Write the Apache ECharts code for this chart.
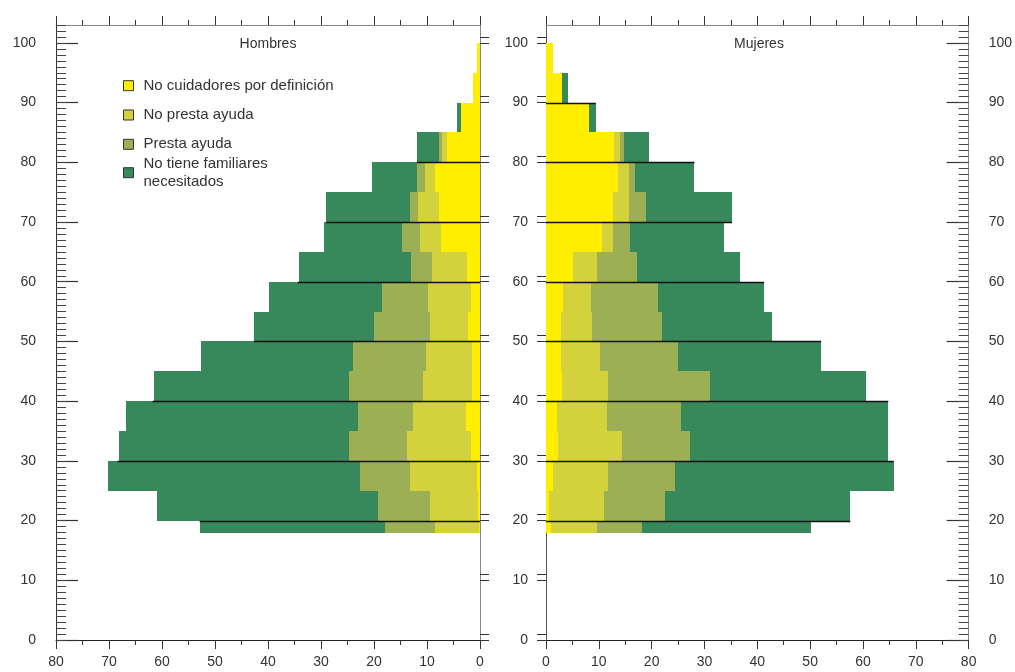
<!DOCTYPE html>
<html><head><meta charset="utf-8">
<script src="https://cdn.jsdelivr.net/npm/echarts@6/dist/echarts.min.js"></script>
<style>html,body{margin:0;padding:0;background:#fff}#c{width:1015px;height:672px}</style>
</head><body><div id="c"></div>
<script>
// ---- data ----
const ageStart = [18,20,25,30,35,40,45,50,55,60,65,70,75,80,85,90,95];
const ageEnd   = [20,25,30,35,40,45,50,55,60,65,70,75,80,85,90,95,100];
const categories = ['No cuidadores por definición','No presta ayuda','Presta ayuda','No tiene familiares\nnecesitados'];
const panelTitles = ['Hombres','Mujeres'];

const menNoCuidadores  = [0.2,0.3,0.5,1.7,2.7,1.5,1.5,2.3,1.7,2.5,7.4,7.8,8.5,6.3,3.5,1.4,0.5];
const menNoPresta      = [8.3,9.2,12.7,12.0,9.9,9.3,8.7,7.2,8.2,6.6,4.0,3.9,1.9,0.9,0,0,0];
const menPresta        = [9.5,9.7,9.4,11.0,10.4,13.9,13.8,10.5,8.5,4.0,3.3,1.5,1.5,0.6,0,0,0];
const menSinFamiliares = [34.8,41.7,47.5,43.5,43.7,36.9,28.6,22.7,21.5,21.1,14.7,15.8,8.5,4.0,0.9,0,0];

const womenNoCuidadores  = [0.9,0.5,1.3,2.2,2.0,3.1,2.8,2.9,3.3,5.2,10.6,12.6,13.6,12.9,8.1,3.1,1.3];
const womenNoPresta      = [8.8,10.5,10.5,12.2,9.5,8.7,7.5,5.9,5.3,4.4,2.0,3.2,2.1,1.1,0,0,0];
const womenPresta        = [8.5,11.6,12.7,12.9,14.1,19.3,14.7,13.1,12.6,7.7,3.3,3.2,1.1,0.7,0,0,0];
const womenSinFamiliares = [31.9,35.0,41.3,37.5,39.2,29.5,27.1,20.9,20.1,19.4,17.8,16.2,11.3,4.8,1.3,1.0,0];

const menLineAges     = [20,30,40,50,60,70,80];
const menLineExtent   = [52.9,68.4,61.8,42.7,34.4,29.0,11.9];
const womenLineAges   = [20,30,40,50,60,70,80,90];
const womenLineExtent = [57.6,65.8,64.8,52.1,41.3,35.2,28.1,9.4];

const yLabelValues = [0,10,20,30,40,50,60,70,80,90,100];
const yPairTicks   = [0,1,10,11,20,21,30,31,40,41,50,51,60,61,70,71,80,81,90,91,100,101];
const yUnitTicks   = [];
for (let v = 0; v <= 103; v++) yUnitTicks.push(v);

// ---- styles ----
const F = 'Liberation Sans, Arial, sans-serif';
const colors = ['#FFEE00', '#D3D23D', '#9CAF54', '#37895C'];

function cumulative(arrs) {
  const out = [];
  let run = arrs[0].map(() => 0);
  arrs.forEach(a => { run = run.map((r, i) => r + a[i]); out.push(run.slice()); });
  return out;
}

function barSeries(name, color, cum, gi, z) {
  return {
    type: 'custom', name, xAxisIndex: gi * 2, yAxisIndex: gi * 3, z,
    itemStyle: { color },
    encode: { x: 0, y: [1, 2] },
    data: cum.map((v, i) => [v, ageStart[i], ageEnd[i]]),
    renderItem(params, api) {
      const v = api.value(0);
      if (!(v > 0)) return;
      const a = api.coord([0, api.value(2)]);
      const b = api.coord([v, api.value(1)]);
      const x1 = Math.round(Math.min(a[0], b[0])), x2 = Math.round(Math.max(a[0], b[0]));
      const y1 = Math.round(Math.min(a[1], b[1])), y2 = Math.round(Math.max(a[1], b[1]));
      return { type: 'rect', shape: { x: x1, y: y1, width: x2 - x1, height: y2 - y1 },
               style: { fill: api.visual('color') } };
    }
  };
}

function lineSeries(ages, ext, gi) {
  return {
    type: 'custom', name: 'lineas' + gi, xAxisIndex: gi * 2, yAxisIndex: gi * 3, z: 10,
    encode: { x: 1, y: 0 },
    data: ages.map((a, i) => [a, ext[i]]),
    renderItem(params, api) {
      const a = api.coord([0, api.value(0)]);
      const b = api.coord([api.value(1), api.value(0)]);
      const y = Math.round(a[1]) + 0.5;
      return { type: 'line', shape: { x1: a[0], y1: y, x2: b[0], y2: y },
               style: { stroke: '#111', lineWidth: 1.4 } };
    }
  };
}

const menCum = cumulative([menNoCuidadores, menNoPresta, menPresta, menSinFamiliares]);
const womenCum = cumulative([womenNoCuidadores, womenNoPresta, womenPresta, womenSinFamiliares]);

const series = [];
[menCum, womenCum].forEach((cum, gi) => {
  for (let k = 3; k >= 0; k--) series.push(barSeries(categories[k], colors[k], cum[k], gi, 2 + (3 - k)));
});
series.push(lineSeries(menLineAges, menLineExtent, 0));
series.push(lineSeries(womenLineAges, womenLineExtent, 1));

const labelStyle = { color: '#333', fontSize: 14, fontFamily: F };

function xAxes(gi, inverse) {
  const base = {
    type: 'value', gridIndex: gi, min: 0, max: 80, interval: 10, inverse,
    splitLine: { show: false },
    axisTick: { show: true, inside: false, length: 9, lineStyle: { color: '#333' } },
    minorTick: { show: true, splitNumber: 2, length: 5, lineStyle: { color: '#333' } },
  };
  return [
    Object.assign({}, base, { position: 'bottom', axisLine: { show: true, onZero: false, lineStyle: { color: '#222' } },
      axisLabel: Object.assign({ margin: 15 }, labelStyle) }),
    Object.assign({}, base, { position: 'top', axisLine: { show: true, onZero: false, lineStyle: { color: '#888' } },
      axisLabel: { show: false } })
  ];
}

function yAxis(gi, pos, opts) {
  const o = Object.assign({
    type: 'value', gridIndex: gi, position: pos, min: 0, max: 103,
    splitLine: { show: false }, axisLabel: { show: false },
    axisLine: { show: false }, axisTick: { show: false }
  }, opts);
  o.axisLine = Object.assign({}, o.axisLine, { onZero: false });
  return o;
}

const yAxes = [
  yAxis(0, 'left', {
    axisLine: { show: true, lineStyle: { color: '#333' } },
    axisTick: { show: true, inside: true, length: 22, customValues: yLabelValues, lineStyle: { color: '#333', width: 1.2 } },
    axisLabel: Object.assign({ show: true, margin: 20, customValues: yLabelValues }, labelStyle)
  }),
  yAxis(0, 'left', {
    axisTick: { show: true, inside: true, length: 10, customValues: yUnitTicks, lineStyle: { color: '#444' } }
  }),
  yAxis(0, 'right', {
    axisLine: { show: true, lineStyle: { color: '#888' } },
    axisTick: { show: true, inside: false, length: 9, customValues: yPairTicks, lineStyle: { color: '#333' } }
  }),
  yAxis(1, 'left', {
    axisLine: { show: true, lineStyle: { color: '#555' } },
    axisTick: { show: true, inside: false, length: 9, customValues: yPairTicks, lineStyle: { color: '#333' } },
    axisLabel: Object.assign({ show: true, margin: 18, customValues: yLabelValues }, labelStyle)
  }),
  yAxis(1, 'right', {
    axisLine: { show: true, lineStyle: { color: '#888' } },
    axisTick: { show: true, inside: true, length: 22, customValues: yLabelValues, lineStyle: { color: '#333', width: 1.2 } },
    axisLabel: Object.assign({ show: true, margin: 20, customValues: yLabelValues }, labelStyle)
  }),
  yAxis(1, 'right', {
    axisTick: { show: true, inside: true, length: 10, customValues: yUnitTicks, lineStyle: { color: '#444' } }
  })
];

const legendCenters = [85.7, 115, 144.3, 172.7];
const legends = categories.map((name, i) => ({
  data: [name], orient: 'vertical', left: 123,
  top: legendCenters[i] - (name.indexOf('\n') >= 0 ? 18 : 9),
  padding: 0, itemGap: 0, selectedMode: false,
  icon: 'path://M0,0H10V10H0Z', itemWidth: 20, itemHeight: 10,
  itemStyle: { borderColor: '#333', borderWidth: 1 },
  textStyle: { fontSize: 15, color: '#333', fontFamily: F, lineHeight: 18 }
}));

const chart = echarts.init(document.getElementById('c'), null, { renderer: 'canvas' });
chart.setOption({
  animation: false,
  backgroundColor: '#fff',
  grid: [
    { left: 56, width: 424, top: 25, bottom: 32 },
    { left: 546, width: 426, top: 25, bottom: 32 }
  ],
  xAxis: xAxes(0, true).concat(xAxes(1, false)),
  yAxis: yAxes,
  legend: legends,
  graphic: [
    { type: 'text', x: 268, y: 44, style: { text: panelTitles[0], textAlign: 'center', textVerticalAlign: 'middle', font: '14px ' + F, fill: '#333' } },
    { type: 'text', x: 759, y: 44, style: { text: panelTitles[1], textAlign: 'center', textVerticalAlign: 'middle', font: '14px ' + F, fill: '#333' } }
  ],
  series
});
</script>
</body></html>
